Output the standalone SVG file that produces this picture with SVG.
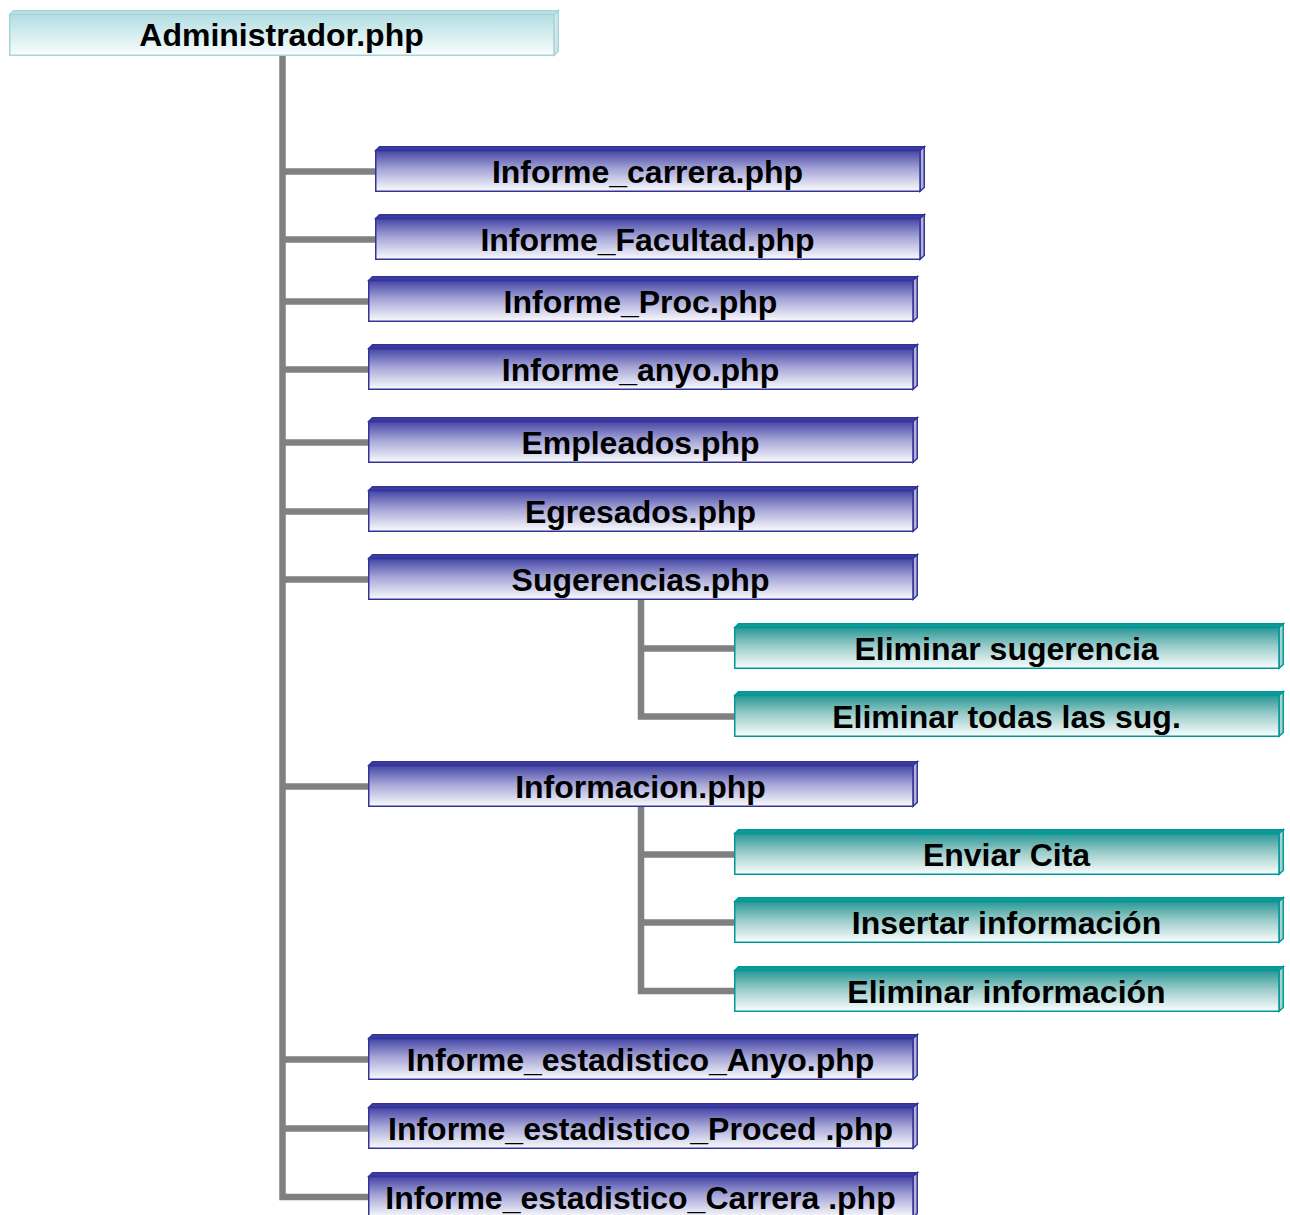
<svg xmlns="http://www.w3.org/2000/svg" xmlns:xlink="http://www.w3.org/1999/xlink" width="1290" height="1215" viewBox="0 0 1290 1215">
  <style>
    .lbl { font-family: "Liberation Sans", Arial, sans-serif; font-weight: bold; font-size: 32px; fill: #000; text-anchor: middle; }
    .wire { fill: none; stroke: #808080; stroke-width: 6.5; stroke-linejoin: miter; stroke-linecap: butt; }
  </style>
  <defs>
    <linearGradient id="gBlue" x1="0" y1="0" x2="0" y2="1">
      <stop offset="0" stop-color="#4444a6"/>
      <stop offset="0.45" stop-color="#a4a4d6"/>
      <stop offset="1" stop-color="#fbfbfe"/>
    </linearGradient>
    <linearGradient id="gTeal" x1="0" y1="0" x2="0" y2="1">
      <stop offset="0" stop-color="#289895"/>
      <stop offset="0.45" stop-color="#98cbc9"/>
      <stop offset="1" stop-color="#fbfefe"/>
    </linearGradient>
    <linearGradient id="gAqua" x1="0" y1="0" x2="0" y2="1">
      <stop offset="0" stop-color="#b2dee2"/>
      <stop offset="1" stop-color="#fafdfd"/>
    </linearGradient>
    <!-- bevelled bar: top face, right side face, front face -->
    <symbol id="barBlue" overflow="visible">
      <polygon points="0.75,4.5 4.5,0.75 549.25,0.75 545,4.5" fill="#3e3ea2" stroke="#333399" stroke-width="1.5"/>
      <polygon points="545,4.5 549.25,0.75 549.25,41.5 545,45.25" fill="#b4b4d6" stroke="#333399" stroke-width="1.5"/>
      <rect x="0.75" y="4.5" width="544.25" height="40.75" fill="url(#gBlue)" stroke="#333399" stroke-width="1.5"/>
    </symbol>
    <symbol id="barTeal" overflow="visible">
      <polygon points="0.75,4.5 4.5,0.75 549.25,0.75 545,4.5" fill="#139a97" stroke="#009999" stroke-width="1.5"/>
      <polygon points="545,4.5 549.25,0.75 549.25,41.5 545,45.25" fill="#a6d2d1" stroke="#009999" stroke-width="1.5"/>
      <rect x="0.75" y="4.5" width="544.25" height="40.75" fill="url(#gTeal)" stroke="#009999" stroke-width="1.5"/>
    </symbol>
    <symbol id="barAqua" overflow="visible">
      <polygon points="0.75,4.5 4.5,0.75 549.25,0.75 545,4.5" fill="#bde2e5" stroke="#a6d6da" stroke-width="1.5"/>
      <polygon points="545,4.5 549.25,0.75 549.25,41.5 545,45.25" fill="#d3e8ea" stroke="#a6d6da" stroke-width="1.5"/>
      <rect x="0.75" y="4.5" width="544.25" height="40.75" fill="url(#gAqua)" stroke="#a6d6da" stroke-width="1.5"/>
    </symbol>
  </defs>

  <!-- connectors -->
  <g id="connectors">
    <path class="wire" d="M282.5 55 V1197 H368"/>
    <path class="wire" d="M282.5 171.5 H375"/>
    <path class="wire" d="M282.5 239.5 H375"/>
    <path class="wire" d="M282.5 301.5 H368"/>
    <path class="wire" d="M282.5 369.5 H368"/>
    <path class="wire" d="M282.5 442.5 H368"/>
    <path class="wire" d="M282.5 511.5 H368"/>
    <path class="wire" d="M282.5 579.5 H368"/>
    <path class="wire" d="M282.5 786.5 H368"/>
    <path class="wire" d="M282.5 1059.5 H368"/>
    <path class="wire" d="M282.5 1128.5 H368"/>
    <path class="wire" d="M641 600 V716.5 H734"/>
    <path class="wire" d="M641 648.5 H734"/>
    <path class="wire" d="M641 807 V991 H734"/>
    <path class="wire" d="M641 854.5 H734"/>
    <path class="wire" d="M641 922.5 H734"/>
  </g>

  <g id="n-administrador"><use xlink:href="#barAqua" x="9" y="10"/><text class="lbl" x="281.5" y="46">Administrador.php</text></g>
  <g id="n-informe-carrera"><use xlink:href="#barBlue" x="375" y="146"/><text class="lbl" x="647.5" y="183">Informe_carrera.php</text></g>
  <g id="n-informe-facultad"><use xlink:href="#barBlue" x="375" y="214"/><text class="lbl" x="647.5" y="251">Informe_Facultad.php</text></g>
  <g id="n-informe-proc"><use xlink:href="#barBlue" x="368" y="276"/><text class="lbl" x="640.5" y="313">Informe_Proc.php</text></g>
  <g id="n-informe-anyo"><use xlink:href="#barBlue" x="368" y="344"/><text class="lbl" x="640.5" y="381">Informe_anyo.php</text></g>
  <g id="n-empleados"><use xlink:href="#barBlue" x="368" y="417"/><text class="lbl" x="640.5" y="454">Empleados.php</text></g>
  <g id="n-egresados"><use xlink:href="#barBlue" x="368" y="486"/><text class="lbl" x="640.5" y="523">Egresados.php</text></g>
  <g id="n-sugerencias"><use xlink:href="#barBlue" x="368" y="554"/><text class="lbl" x="640.5" y="591">Sugerencias.php</text></g>
  <g id="n-eliminar-sugerencia"><use xlink:href="#barTeal" x="734" y="623"/><text class="lbl" x="1006.5" y="660">Eliminar sugerencia</text></g>
  <g id="n-eliminar-todas"><use xlink:href="#barTeal" x="734" y="691"/><text class="lbl" x="1006.5" y="728">Eliminar todas las sug.</text></g>
  <g id="n-informacion"><use xlink:href="#barBlue" x="368" y="761"/><text class="lbl" x="640.5" y="798">Informacion.php</text></g>
  <g id="n-enviar-cita"><use xlink:href="#barTeal" x="734" y="829"/><text class="lbl" x="1006.5" y="866">Enviar Cita</text></g>
  <g id="n-insertar-informacion"><use xlink:href="#barTeal" x="734" y="897"/><text class="lbl" x="1006.5" y="934">Insertar información</text></g>
  <g id="n-eliminar-informacion"><use xlink:href="#barTeal" x="734" y="966"/><text class="lbl" x="1006.5" y="1003">Eliminar información</text></g>
  <g id="n-est-anyo"><use xlink:href="#barBlue" x="368" y="1034"/><text class="lbl" x="640.5" y="1071">Informe_estadistico_Anyo.php</text></g>
  <g id="n-est-proced"><use xlink:href="#barBlue" x="368" y="1103"/><text class="lbl" x="640.5" y="1140">Informe_estadistico_Proced .php</text></g>
  <g id="n-est-carrera"><use xlink:href="#barBlue" x="368" y="1172"/><text class="lbl" x="640.5" y="1209">Informe_estadistico_Carrera .php</text></g>
</svg>
